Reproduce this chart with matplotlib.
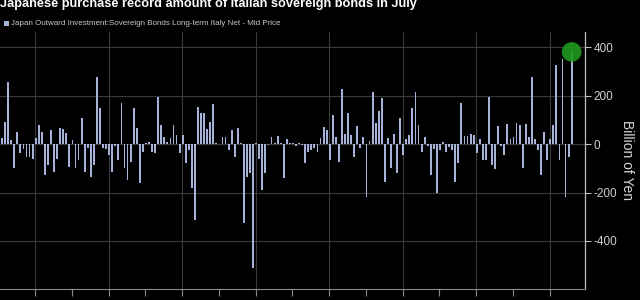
import matplotlib
matplotlib.use("Agg")
import matplotlib.pyplot as plt
from matplotlib.patches import Rectangle
import numpy as np

# Monthly net purchases, Jan 2004 .. Jul 2019 (billion yen)
values = [
    23, 92, 257, 15, -100, 50, -38, -20, -52, -52, -60, 23,
    78, 50, -128, -87, 58, -115, -60, 65, 60, 44, -93, 15,
    -100, -66, 106, -114, -15, -135, -87, 275, 147, -18, -20, -45,
    -114, -10, -66, 170, -100, -148, -73, 147, 65, -160, -32, 5,
    10, -32, -38, 195, 78, 30, 10, 23, 78, 37, -38, 37,
    -80, -25, -183, -313, 154, 129, 126, 60, 92, 165, 5, 2,
    30, 30, -25, 58, -52, 65, 3, -325, -135, -121, -513, 3,
    -60, -190, -121, -5, 27, 5, 33, 5, -142, 20, 3, 3,
    -10, 3, -5, -77, -32, -25, -18, -32, 23, 69, 58, -66,
    120, 30, -73, 225, 40, 129, 37, -55, 74, -18, 27, -220,
    14, 216, 85, 136, 188, -155, 23, -100, 41, -121, 106, -45,
    20, 37, 147, 216, 78, -32, 30, -10, -128, -20, -203, -25,
    10, -32, -11, -25, -155, -80, 170, 33, 33, 41, 37, -38,
    20, -66, -66, 195, -87, -104, 74, -10, -45, 82, 20, 27,
    85, 78, -100, 82, 30, 278, 20, -25, -128, 50, -66, 20,
    78, 326, -66, 350, -217, -52, 380,
]
title = "Japanese purchase record amount of Italian sovereign bonds in July"
series_name = "Japan Outward Investment:Sovereign Bonds Long-term Italy Net - Mid Price"
ytick_values = [-400, -200, 0, 200, 400]

bar_color = "#a7b2d8"
grid_color = "#3a3a3a"
axis_color = "#bfbfbf"
font = ["Liberation Sans", "DejaVu Sans"]

fig = plt.figure(figsize=(6.4, 3.0), dpi=100, facecolor="black")
ax = fig.add_axes([0.0, 11 / 300, 585 / 640, 257 / 300])
ax.set_facecolor("black")

x = np.arange(len(values))
ax.bar(x, values, width=0.6, color=bar_color, zorder=3)

# highlight the July record
ax.scatter([x[-1]], [values[-1]], s=200, color="#1f9a1f", alpha=0.9,
           edgecolors="none", zorder=4)

ax.set_xlim(-0.65, 190.35)
ax.set_ylim(-598, 462)

# yearly ticks, grid every two years
year_ticks = 10.8 + 12 * np.arange(15)
ax.set_xticks(year_ticks)
ax.set_xticklabels([])
for xv in year_ticks[::2]:
    ax.axvline(xv, color=grid_color, lw=0.8, zorder=1)
for yv in ytick_values:
    ax.axhline(yv, color=grid_color, lw=0.8, zorder=1)

ax.yaxis.tick_right()
ax.yaxis.set_label_position("right")
ax.set_yticks(ytick_values)
ax.set_yticklabels([str(v) for v in ytick_values])
ax.tick_params(axis="y", colors=axis_color, labelcolor="#d0d0d0",
               labelsize=8.5, length=4, width=0.8, pad=2)
ax.tick_params(axis="x", colors="#8a8a8a", length=5, width=0.8)
for lbl in ax.get_yticklabels():
    lbl.set_family(font)

for side in ["top", "left"]:
    ax.spines[side].set_visible(False)
ax.spines["right"].set_color(axis_color)
ax.spines["bottom"].set_color("#8a8a8a")
ax.spines["right"].set_linewidth(0.9)
ax.spines["bottom"].set_linewidth(0.8)

ax.set_ylabel("Billion of Yen", color="#d8d8d8", fontsize=10,
              rotation=270, labelpad=12, family=font)

# title (cut at the top in the source) and legend
fig.text(0.0, 1 - 7 / 300, title, color="white", fontsize=9.2,
         fontweight="bold", va="baseline", ha="left", family=font)
fig.patches.append(Rectangle((4 / 640, 1 - 26 / 300), 5 / 640, 5 / 300,
                             transform=fig.transFigure, facecolor=bar_color,
                             edgecolor="none"))
fig.text(11 / 640, 1 - 23.5 / 300, series_name, color="#c8c8c8",
         fontsize=5.8, va="center", ha="left", family=font)

fig.savefig("out.png", dpi=100, facecolor="black")
